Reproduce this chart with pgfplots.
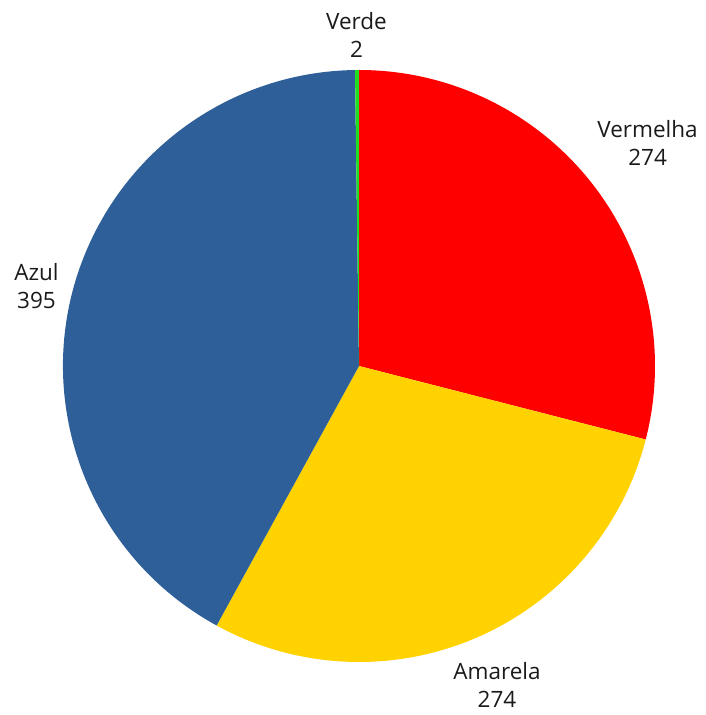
\documentclass[border=0pt]{standalone}
\usepackage{pgfplots}
\pgfplotsset{compat=1.18}
\usepackage{fontspec}
\setmainfont{Open Sans}
\definecolor{cRed}{HTML}{FF0000}
\definecolor{cYellow}{HTML}{FFD200}
\definecolor{cBlue}{HTML}{2E5F98}
\definecolor{cGreen}{HTML}{22DD22}
\definecolor{cText}{HTML}{1A1A1A}
\begin{document}
\begin{tikzpicture}
% values (clockwise from top)
\def\vA{274}% Vermelha
\def\vB{274}% Amarela
\def\vC{395}% Azul
\def\vD{2}%   Verde
\pgfmathsetmacro{\tot}{\vA+\vB+\vC+\vD}
\pgfmathsetmacro{\aO}{90}
\pgfmathsetmacro{\aA}{\aO-360*(\vA/\tot)}
\pgfmathsetmacro{\aB}{\aA-360*(\vB/\tot)}
\pgfmathsetmacro{\aC}{\aB-360*(\vC/\tot)}
\pgfmathsetmacro{\aD}{\aC-360*(\vD/\tot)}
\pgfmathsetmacro{\mA}{(\aO+\aA)/2}
\pgfmathsetmacro{\mB}{(\aA+\aB)/2}
\pgfmathsetmacro{\mC}{(\aB+\aC)/2}
\pgfmathsetmacro{\mD}{(\aC+\aD)/2}
\def\cx{359}\def\cy{349}\def\R{296}
\begin{axis}[
  width=705pt, height=715pt, scale only axis,
  xmin=0, xmax=705, ymin=0, ymax=715,
  hide axis, clip=false,
]
\path (rel axis cs:0,0) rectangle (rel axis cs:1,1);
\fill[cRed] (axis cs:\cx,\cy) -- (axis cs:{\cx+\R*cos(\aO)},{\cy+\R*sin(\aO)}) arc[start angle=\aO, end angle=\aA, radius=\R pt] -- cycle;
\fill[cYellow] (axis cs:\cx,\cy) -- (axis cs:{\cx+\R*cos(\aA)},{\cy+\R*sin(\aA)}) arc[start angle=\aA, end angle=\aB, radius=\R pt] -- cycle;
\fill[cBlue] (axis cs:\cx,\cy) -- (axis cs:{\cx+\R*cos(\aB)},{\cy+\R*sin(\aB)}) arc[start angle=\aB, end angle=\aC, radius=\R pt] -- cycle;
\fill[cGreen] (axis cs:\cx,\cy) -- (axis cs:{\cx+\R*cos(\aC)},{\cy+\R*sin(\aC)}) arc[start angle=\aC, end angle=\aD, radius=\R pt] -- cycle;
\begin{scope}[every node/.style={align=center, text=cText, inner sep=0pt, font=\fontsize{22.5}{28}\selectfont}]
\node[anchor=\mA+180] at (axis cs:{\cx+1.105*\R*cos(\mA)},{\cy+1.105*\R*sin(\mA)}) {Vermelha\\\vA};
\node[anchor=\mB+180] at (axis cs:{\cx+1.09*\R*cos(\mB)},{\cy+1.09*\R*sin(\mB)}) {Amarela\\\vB};
\node[anchor=\mC+180] at (axis cs:{\cx+1.045*\R*cos(\mC)},{\cy+1.045*\R*sin(\mC)}) {Azul\\\vC};
\node[anchor=\mD+180] at (axis cs:{\cx+1.04*\R*cos(\mD)},{\cy+1.04*\R*sin(\mD)}) {Verde\\\vD};
\end{scope}
\end{axis}
\end{tikzpicture}
\end{document}
